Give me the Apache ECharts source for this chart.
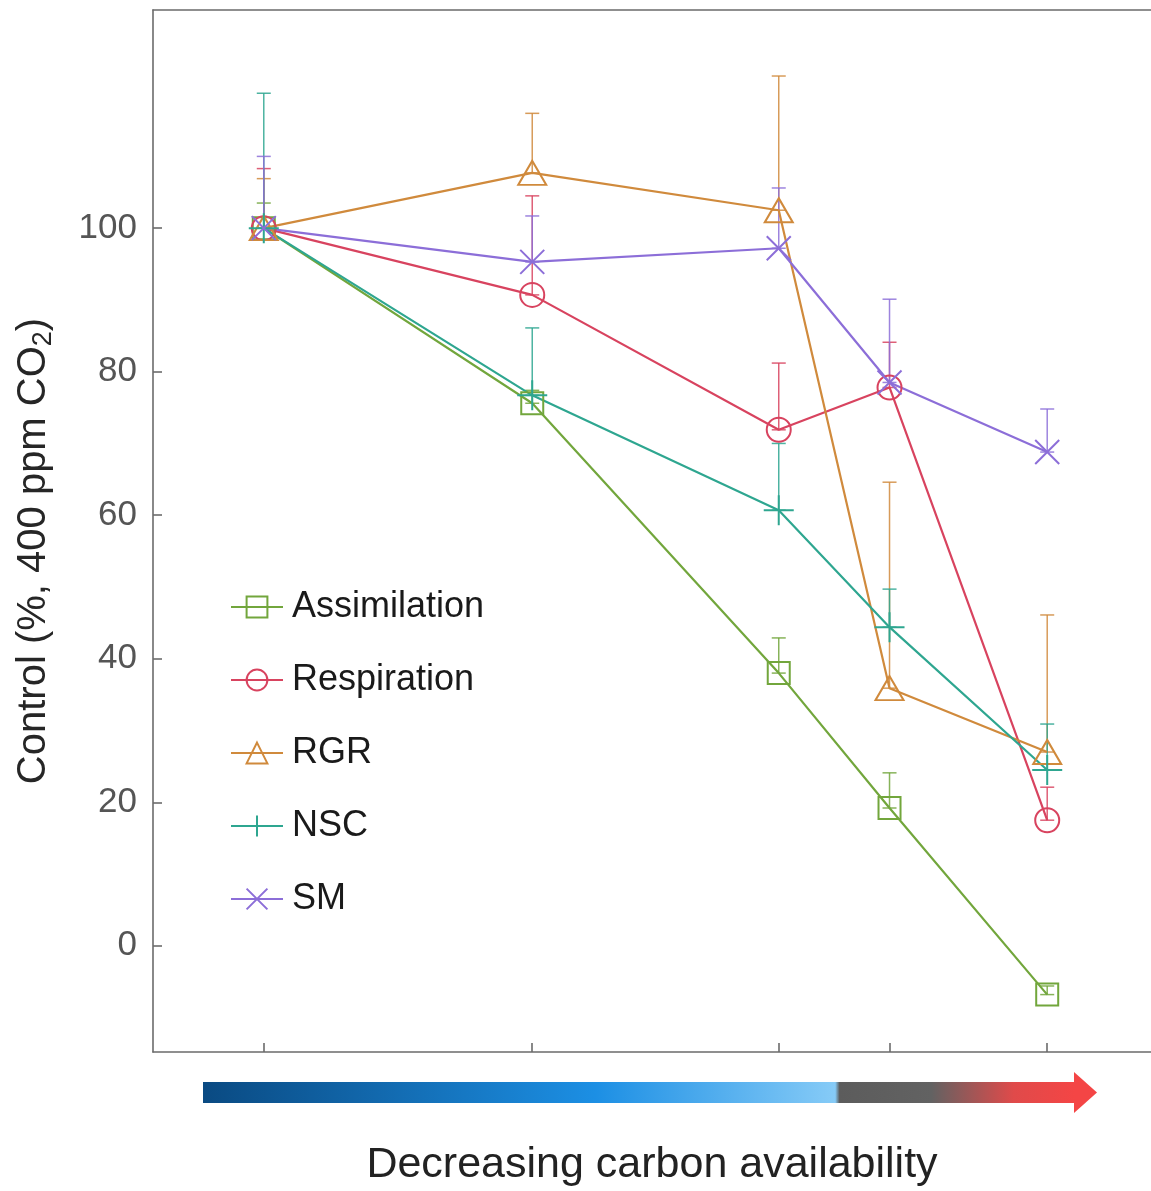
<!DOCTYPE html>
<html>
<head>
<meta charset="utf-8">
<script src="https://cdn.jsdelivr.net/npm/echarts@6/dist/echarts.min.js"></script>
<style>
  html, body { margin: 0; padding: 0; background: #fff; }
  #chart { width: 1151px; height: 1191px; }
</style>
</head>
<body>
<div id="chart"></div>
<script>
// x positions of the five treatments (arbitrary units, decreasing carbon availability)
const xLevels = [1.11, 3.80, 6.27, 7.38, 8.96]
const yTicks = [0, 20, 40, 60, 80, 100]

const seriesNames = ['Assimilation', 'Respiration', 'RGR', 'NSC', 'SM']
const assimilation = [100, 75.6, 38.0, 19.2, -6.8]
const assimilationErr = [3.5, 1.8, 4.9, 4.9, 1.2]
const respiration = [100, 90.7, 71.9, 77.8, 17.5]
const respirationErr = [8.3, 13.8, 9.3, 6.3, 4.6]
const rgr = [100, 107.7, 102.5, 35.9, 27.0]
const rgrErr = [6.9, 8.3, 18.7, 28.7, 19.1]
const nsc = [100, 76.7, 60.7, 44.4, 24.5]
const nscErr = [18.8, 9.4, 9.3, 5.3, 6.4]
const sm = [100, 95.3, 97.2, 78.5, 68.8]
const smErr = [10.0, 6.4, 8.4, 11.6, 6.0]

const colors = ['#72a63c', '#d8435f', '#d08a3c', '#2ea690', '#8c6ed8']
const symbols = [
  'rect',
  'circle',
  'triangle',
  'path://M0,5L10,5M5,0L5,10',
  'path://M0,0L10,10M10,0L0,10'
]
const symbolSizes = [22, 24, [28, 24], 30, 24]

const means = [assimilation, respiration, rgr, nsc, sm]
const errs = [assimilationErr, respirationErr, rgrErr, nscErr, smErr]

const font = '"Liberation Sans", Arial, sans-serif'

function errorBar(color) {
  return function (params, api) {
    const x = api.value(0)
    const v = api.value(1)
    const e = api.value(2)
    const p0 = api.coord([x, v])
    const p1 = api.coord([x, v + e])
    const w = 7
    const style = { stroke: color, lineWidth: 1.5, opacity: 0.85 }
    return {
      type: 'group',
      children: [
        { type: 'line', shape: { x1: p0[0], y1: p0[1], x2: p1[0], y2: p1[1] }, style: style },
        { type: 'line', shape: { x1: p0[0] - w, y1: p0[1], x2: p0[0] + w, y2: p0[1] }, style: style },
        { type: 'line', shape: { x1: p1[0] - w, y1: p1[1], x2: p1[0] + w, y2: p1[1] }, style: style }
      ]
    }
  }
}

const series = []
seriesNames.forEach((name, i) => {
  series.push({
    name: name + ' err',
    type: 'custom',
    renderItem: errorBar(colors[i]),
    data: xLevels.map((x, k) => [x, means[i][k], errs[i][k]]),
    z: 1,
    silent: true
  })
})
seriesNames.forEach((name, i) => {
  series.push({
    name: name,
    type: 'line',
    data: xLevels.map((x, k) => [x, means[i][k]]),
    symbol: symbols[i],
    symbolSize: symbolSizes[i],
    showAllSymbol: true,
    lineStyle: { color: colors[i], width: 2.2 },
    itemStyle: { color: 'rgba(0,0,0,0)', borderColor: colors[i], borderWidth: 2 },
    emphasis: { disabled: true },
    z: 3
  })
})

const option = {
  backgroundColor: '#fff',
  animation: false,
  grid: { left: 153, right: 0, top: 10, bottom: 139 },
  legend: {
    data: seriesNames,
    orient: 'vertical',
    left: 225,
    top: 584,
    itemWidth: 52,
    itemHeight: 26,
    itemGap: 37,
    textStyle: { fontFamily: font, fontSize: 36, color: '#1a1a1a', lineHeight: 36, padding: [0, 0, 0, 4] }
  },
  xAxis: [{
    type: 'value',
    min: 0,
    max: 10,
    splitLine: { show: false },
    axisLine: { show: true, onZero: false, lineStyle: { color: '#6b6b6b', width: 1.6 } },
    axisTick: { show: true, inside: true, length: 9, customValues: xLevels, lineStyle: { color: '#6b6b6b', width: 1.6 } },
    axisLabel: { show: false }
  }, {
    type: 'value',
    position: 'top',
    min: 0,
    max: 10,
    splitLine: { show: false },
    axisLine: { show: true, onZero: false, lineStyle: { color: '#6b6b6b', width: 1.6 } },
    axisTick: { show: false },
    axisLabel: { show: false }
  }],
  yAxis: {
    type: 'value',
    min: -14.8,
    max: 130.4,
    splitLine: { show: false },
    axisLine: { show: true, onZero: false, lineStyle: { color: '#6b6b6b', width: 1.6 } },
    axisTick: { show: true, inside: true, length: 9, customValues: yTicks, lineStyle: { color: '#6b6b6b', width: 1.6 } },
    axisLabel: { customValues: yTicks, fontFamily: font, fontSize: 35, color: '#555', margin: 16 }
  },
  graphic: [
    {
      type: 'text',
      x: 34,
      y: 551,
      rotation: Math.PI / 2,
      style: {
        text: 'Control (%, 400 ppm CO{sub|2})',
        font: '40px ' + font,
        fill: '#262626',
        align: 'center',
        verticalAlign: 'middle',
        rich: {
          sub: { fontSize: 27, fontFamily: font, fill: '#262626', padding: [19, 0, 0, 0] }
        }
      }
    },
    {
      type: 'rect',
      shape: { x: 203, y: 1082, width: 872, height: 21 },
      style: {
        fill: new echarts.graphic.LinearGradient(0, 0, 1, 0, [
          { offset: 0, color: '#0a4a82' },
          { offset: 0.45, color: '#1c8fe4' },
          { offset: 0.725, color: '#86cbf7' },
          { offset: 0.73, color: '#5c5c5c' },
          { offset: 0.835, color: '#626262' },
          { offset: 0.93, color: '#e04a4a' },
          { offset: 1, color: '#f44545' }
        ])
      }
    },
    {
      type: 'polygon',
      shape: { points: [[1074, 1072], [1097, 1092.5], [1074, 1113]] },
      style: { fill: '#f44545' }
    },
    {
      type: 'text',
      x: 652,
      y: 1165,
      style: {
        text: 'Decreasing carbon availability',
        font: '43px ' + font,
        fill: '#222',
        align: 'center',
        verticalAlign: 'middle'
      }
    }
  ],
  series: series
}

const chart = echarts.init(document.getElementById('chart'))
chart.setOption(option)
</script>
</body>
</html>
